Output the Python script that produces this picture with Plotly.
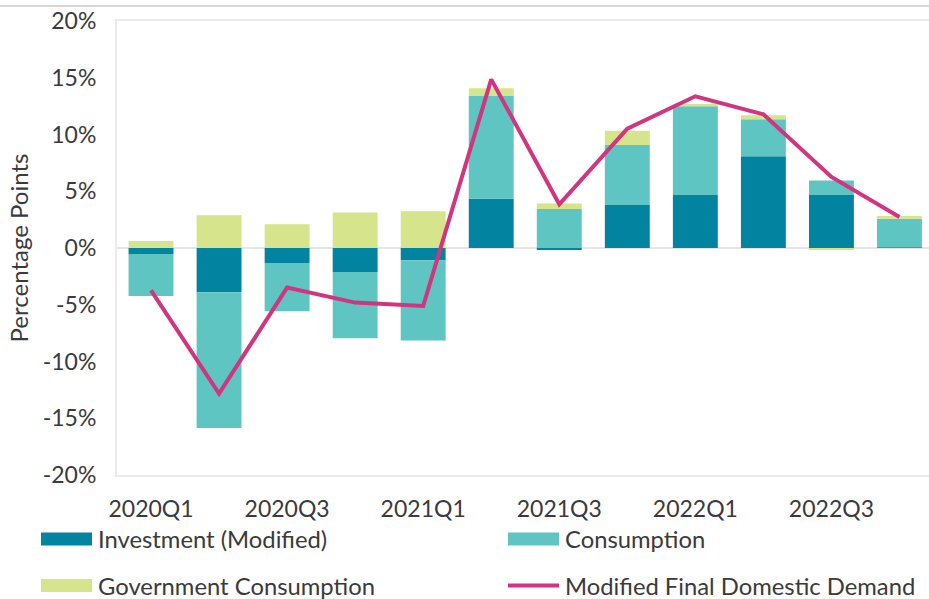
import plotly.graph_objects as go

quarters = ["2020Q1", "2020Q2", "2020Q3", "2020Q4", "2021Q1", "2021Q2",
            "2021Q3", "2021Q4", "2022Q1", "2022Q2", "2022Q3", "2022Q4"]
investment = [-0.53, -3.90, -1.32, -2.11, -1.08, 4.35, -0.15, 3.79, 4.67, 8.08, 4.67, 0.05]
consumption = [-3.70, -11.96, -4.26, -5.85, -7.08, 9.04, 3.44, 5.28, 7.81, 3.26, 1.27, 2.53]
government = [0.62, 2.88, 2.09, 3.12, 3.23, 0.68, 0.47, 1.27, 0.21, 0.35, -0.15, 0.24]
mfdd = [-3.73, -12.83, -3.49, -4.81, -5.11, 14.86, 3.85, 10.52, 13.37, 11.78, 6.26, 2.73]
x_tick_labels = quarters[::2]
y_tick_vals = [-20, -15, -10, -5, 0, 5, 10, 15, 20]
y_tick_text = ["-20%", "-15%", "-10%", "-5%", "0%", "5%", "10%", "15%", "20%"]

C_INV = "#0284A0"
C_CONS = "#5EC5C2"
C_GOV = "#D6E48C"
C_LINE = "#D1357F"
FONT = "Lato"
TXT = "#3a3a3a"

W, H = 929, 599
ML, MR, MT, MB = 117, 0, 21, 124
PW = W - ML - MR
PH = H - MT - MB

def px2x(px):
    return (px - ML) / PW

def py2y(py):
    return (H - MB - py) / PH

fig = go.Figure()
fig.add_trace(go.Bar(x=quarters, y=investment, name="Investment (Modified)",
                     marker=dict(color=C_INV, line=dict(width=0))))
fig.add_trace(go.Bar(x=quarters, y=consumption, name="Consumption",
                     marker=dict(color=C_CONS, line=dict(width=0))))
fig.add_trace(go.Bar(x=quarters, y=government, name="Government Consumption",
                     marker=dict(color=C_GOV, line=dict(width=0))))
fig.add_trace(go.Scatter(x=quarters, y=mfdd, name="Modified Final Domestic Demand",
                         mode="lines", line=dict(color=C_LINE, width=4)))

shapes = []
annotations = []
# top separator line
shapes.append(dict(type="line", xref="paper", yref="paper",
                   x0=px2x(0), x1=px2x(W), y0=py2y(6), y1=py2y(6),
                   line=dict(color="#c8c8c8", width=1.5)))

legend_items = [
    ("Investment (Modified)", C_INV, "rect", 41, 539),
    ("Consumption", C_CONS, "rect", 508, 539),
    ("Government Consumption", C_GOV, "rect", 41, 585.5),
    ("Modified Final Domestic Demand", C_LINE, "line", 508, 585.5),
]
for name, col, kind, lx, ly in legend_items:
    if kind == "rect":
        shapes.append(dict(type="rect", xref="paper", yref="paper",
                           x0=px2x(lx), x1=px2x(lx + 51), y0=py2y(ly - 6.5), y1=py2y(ly + 6.5),
                           fillcolor=col, line=dict(width=0)))
    else:
        shapes.append(dict(type="line", xref="paper", yref="paper",
                           x0=px2x(lx), x1=px2x(lx + 51), y0=py2y(ly), y1=py2y(ly),
                           line=dict(color=col, width=4)))
    annotations.append(dict(text=name, xref="paper", yref="paper",
                            x=px2x(lx + 55), y=py2y(ly), xanchor="left", yanchor="middle",
                            showarrow=False, font=dict(family=FONT, size=23.8, color=TXT)))

fig.update_layout(
    width=W, height=H,
    margin=dict(l=ML, r=MR, t=MT, b=MB),
    barmode="relative",
    bargap=0.34,
    plot_bgcolor="white", paper_bgcolor="white",
    showlegend=False,
    font=dict(family=FONT, size=23, color=TXT),
    shapes=shapes,
    annotations=annotations,
    xaxis=dict(
        type="category",
        range=[-0.5, 11.434],
        tickmode="array", tickvals=x_tick_labels, ticktext=x_tick_labels,
        showgrid=False, ticks="", ticklabelstandoff=12,
        showline=True, mirror=True, linecolor="#ebebeb", linewidth=2,
        tickfont=dict(family=FONT, size=23, color=TXT),
    ),
    yaxis=dict(
        range=[-20, 20],
        tickmode="array", tickvals=y_tick_vals, ticktext=y_tick_text,
        showgrid=False, ticks="", ticklabelstandoff=14,
        showline=True, linecolor="#ebebeb", linewidth=2,
        zeroline=True, zerolinecolor="#e6e6e6", zerolinewidth=2,
        tickfont=dict(family=FONT, size=23, color=TXT),
        title=dict(text="Percentage Points", font=dict(family=FONT, size=24, color=TXT), standoff=7),
    ),
)

fig.write_html("out.html", config={"displayModeBar": False},
               post_script="document.body.style.margin='0';document.body.style.overflow='hidden';")
